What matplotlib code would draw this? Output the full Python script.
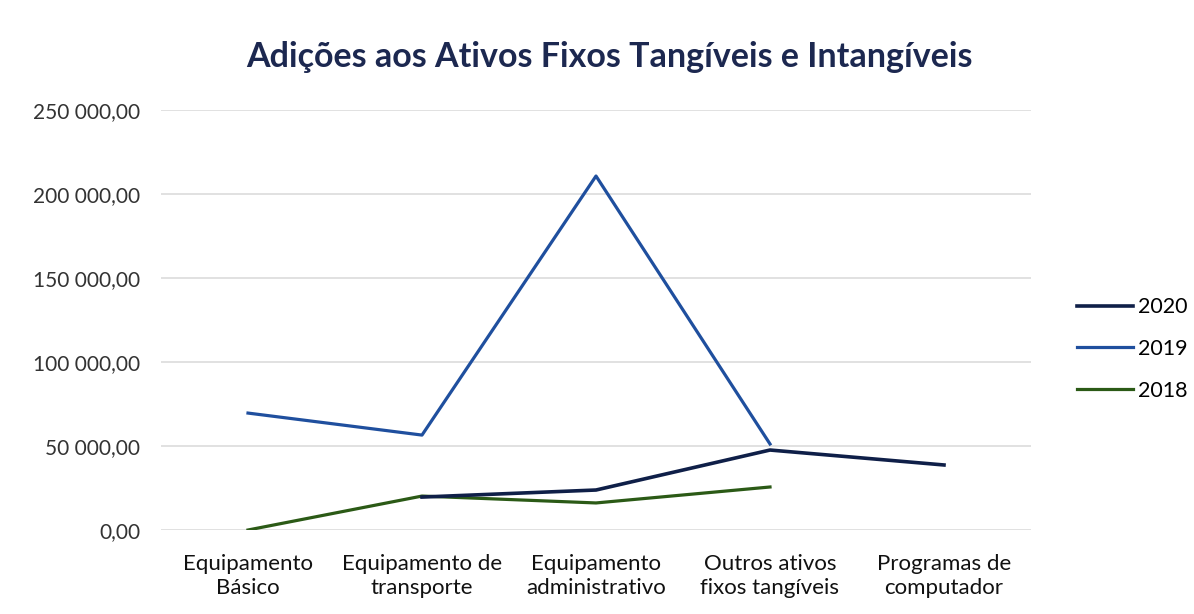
import matplotlib
matplotlib.use("Agg")
import matplotlib.pyplot as plt
import numpy as np

categories = ["Equipamento\nBásico", "Equipamento de\ntransporte", "Equipamento\nadministrativo",
              "Outros ativos\nfixos tangíveis", "Programas de\ncomputador"]
s2020 = [np.nan, 19600, 23800, 47600, 38700]
s2019 = [69600, 56500, 210700, 51200, np.nan]
s2018 = [0, 20200, 16100, 25600, np.nan]
yticks = [0, 50000, 100000, 150000, 200000, 250000]

plt.rcParams['font.family'] = ['Lato', 'DejaVu Sans']

fig = plt.figure(figsize=(11.94, 6.14), dpi=100)
ax = fig.add_axes([161/1194, 1-530/614, (1031-161)/1194, (530-110)/614])
x = np.arange(len(categories))
ax.plot(x, s2019, color="#1f4f9e", lw=2.3, label="2019", zorder=3)
ax.plot(x, s2018, color="#2b5a16", lw=2.3, label="2018", zorder=4)
ax.plot(x, s2020, color="#0f1f48", lw=2.6, label="2020", zorder=5)

ax.set_xlim(-0.5, 4.5)
ax.set_ylim(0, 250000)
ax.set_yticks(yticks)
ax.set_yticklabels([f"{v:,.2f}".replace(",", " ").replace(".", ",") for v in yticks],
                   fontsize=15, color="#333333")
ax.set_xticks(x)
ax.set_xticklabels(categories, fontsize=16, color="#111111", linespacing=1.3)
ax.tick_params(axis='y', length=0, pad=15)
ax.tick_params(axis='x', length=0, pad=17)
ax.grid(axis='y', color="#dcdcdc", lw=1.2)
for s in ax.spines.values():
    s.set_visible(False)

h, l = ax.get_legend_handles_labels()
order = [l.index("2020"), l.index("2019"), l.index("2018")]
leg = fig.legend([h[i] for i in order], [l[i] for i in order], loc="center left",
                 bbox_to_anchor=(1058/1194, 1-349/614), frameon=False, fontsize=15.5,
                 handlelength=2.6, handletextpad=0.2, labelspacing=1.0)

fig.text(0.51, 1-57/614, "Adições aos Ativos Fixos Tangíveis e Intangíveis",
         ha="center", va="center", fontsize=24.5, fontweight="bold", color="#1c2850")

fig.savefig("out.png", dpi=100, facecolor="white")
